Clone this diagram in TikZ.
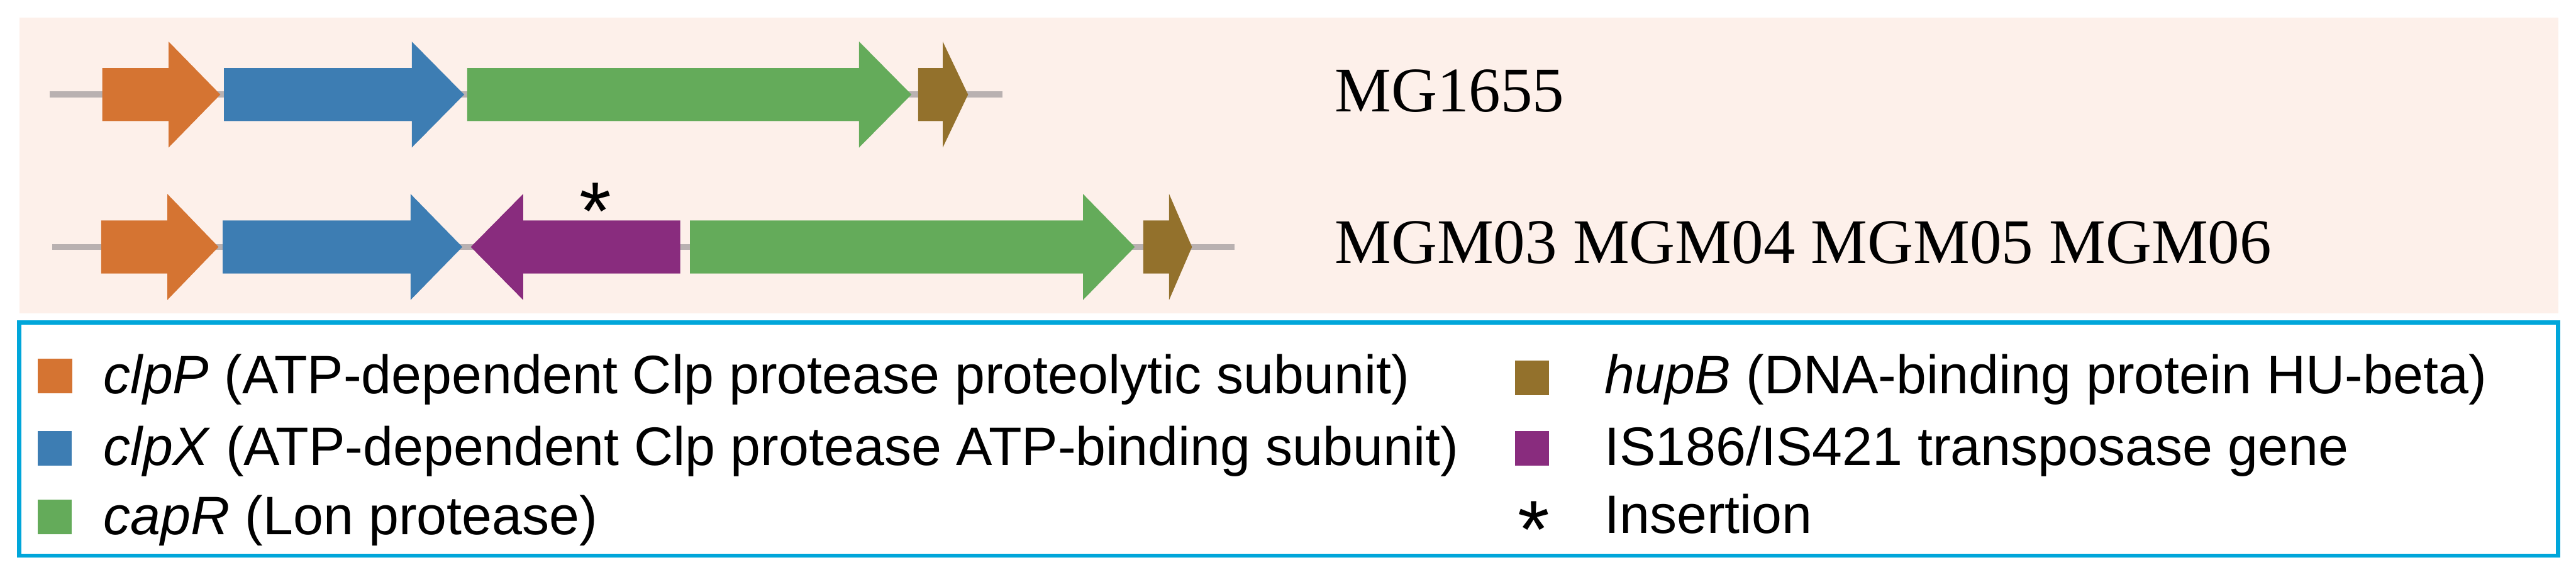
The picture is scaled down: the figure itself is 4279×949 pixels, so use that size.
\documentclass[tikz,border=0pt]{standalone}
\usepackage{fontspec}
\setmainfont{Liberation Sans}
\newfontfamily\strainfont{Liberation Serif}
\usepackage{tikz}
\usetikzlibrary{positioning}
\definecolor{ClpPOrange}{HTML}{D57432}
\definecolor{ClpXBlue}{HTML}{3D7DB3}
\definecolor{CapRGreen}{HTML}{64AB5A}
\definecolor{HupBBrown}{HTML}{93712C}
\definecolor{ISPurple}{HTML}{892C7E}
\definecolor{ChromGray}{HTML}{B9B1B1}
\definecolor{PanelPink}{HTML}{FDF0EA}
\definecolor{KeyBlue}{HTML}{00A6DA}
% gene arrow: body start, head base, tip, row y, colour
\newcommand{\gene}[5]{%
  \fill[#5] (#1,{#4-44}) -- (#2,{#4-44}) -- (#2,{#4-88}) -- (#3,#4)
    -- (#2,{#4+88}) -- (#2,{#4+44}) -- (#1,{#4+44}) -- cycle;}

\begin{document}
\begin{tikzpicture}[x=1pt,y=-1pt,
strain/.style={font=\strainfont\fontsize{105.5}{120}\selectfont,anchor=base west,inner sep=0pt},
keytext/.style={font=\fontsize{90}{100}\selectfont,anchor=base west,inner sep=0pt},
keybox/.style={minimum size=57pt,inner sep=0pt,anchor=south west},
chrom/.style={line width=10pt,draw=ChromGray},
star/.style={font=\fontsize{136}{140}\selectfont,anchor=base,inner sep=0pt}
]
\useasboundingbox (0,0) rectangle (4279,949);
\fill[white] (0,0) rectangle (4279,949);
\fill[PanelPink] (32,29) rectangle (4250,520);

% wild type
\draw[chrom] (83,157) -- (1665,157);
\gene{170}{280}{366}{157}{ClpPOrange}
\gene{372}{684}{771}{157}{ClpXBlue}
\gene{776}{1427}{1514}{157}{CapRGreen}
\gene{1525}{1566}{1608}{157}{HupBBrown}
\node[strain] (wt) at (2217,185) {MG1655};

% mutants with IS insertion
\draw[chrom] (87,410) -- (2051,410);
\gene{168}{278}{363}{410}{ClpPOrange}
\gene{370}{682}{768}{410}{ClpXBlue}
\gene{1130}{869}{782}{410}{ISPurple}
\gene{1146}{1799}{1885}{410}{CapRGreen}
\gene{1899}{1942}{1980}{410}{HupBBrown}
\node[star] (ins) at (989,397) {*};
\node[strain] (mut) at (2217,437) {MGM03 MGM04 MGM05 MGM06};

% legend
\draw[KeyBlue,line width=7pt,fill=white] (31.5,535.5) rectangle (4249.5,922.5);
\node[keybox,fill=ClpPOrange] (kP) at (63,653) {};
\node[keybox,fill=ClpXBlue] (kX) at (62,773) {};
\node[keybox,fill=CapRGreen] (kR) at (62,887) {};
\node[keybox,fill=HupBBrown] (kB) at (2516,656) {};
\node[keybox,fill=ISPurple] (kIS) at (2516,773) {};
\node[star] (kins) at (2548,926) {*};
\node[keytext] (tP) at (172,653) {\textit{clpP} (ATP-dependent Clp protease proteolytic subunit)};
\node[keytext] (tX) at (172,773) {\textit{clpX} (ATP-dependent Clp protease ATP-binding subunit)};
\node[keytext] (tR) at (172,887) {\textit{capR} (Lon protease)};
\node[keytext] (tB) at (2665,653) {\textit{hupB} (DNA-binding protein HU-beta)};
\node[keytext] (tIS) at (2665,773) {IS186/IS421 transposase gene};
\node[keytext] (tins) at (2665,885) {Insertion};
\end{tikzpicture}
\end{document}
